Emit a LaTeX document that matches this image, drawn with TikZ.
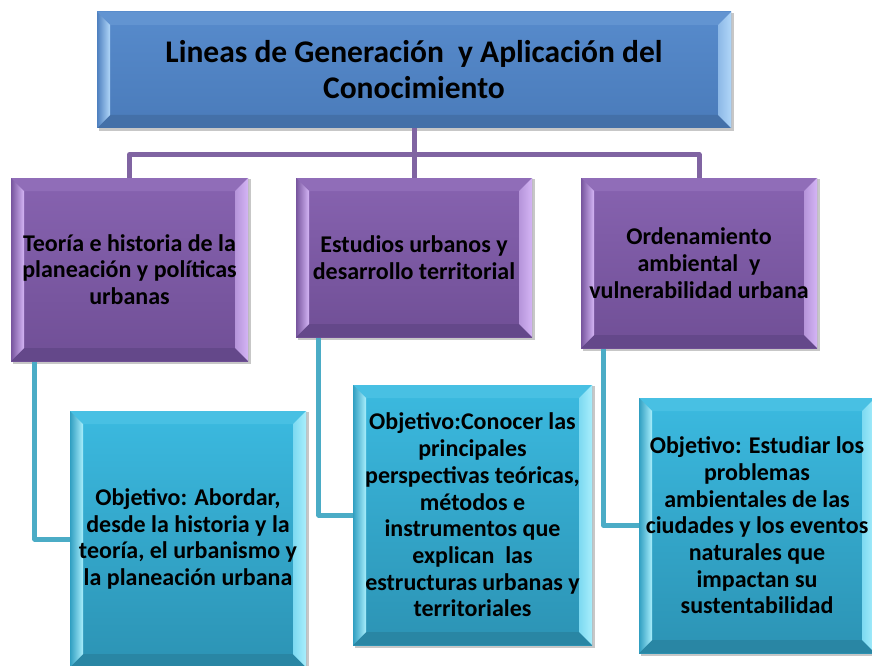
\documentclass[tikz,border=0pt]{standalone}
\usepackage{fontspec}
\setmainfont{Carlito}
\usetikzlibrary{calc}
\pgfdeclarelayer{background}
\pgfsetlayers{background,main}
\definecolor{bluetop}{HTML}{578BCC}
\definecolor{bluebot}{HTML}{4A7BBA}
\definecolor{bluelight}{HTML}{B0D6F8}
\definecolor{bluedark}{HTML}{4470A8}
\definecolor{purtop}{HTML}{8763B0}
\definecolor{purbot}{HTML}{704F96}
\definecolor{purlight}{HTML}{D4B5F5}
\definecolor{purdark}{HTML}{64488A}
\definecolor{tealtop}{HTML}{3BBAE0}
\definecolor{tealbot}{HTML}{2C93B4}
\definecolor{teallight}{HTML}{A8EEFC}
\definecolor{tealdark}{HTML}{2986A4}
\definecolor{purline}{HTML}{8064A2}
\definecolor{tealline}{HTML}{4BACC6}
\tikzset{
  bevelbox/.style n args={4}{rectangle, inner sep=0pt, align=center, text=black,
    font=\bfseries\fontsize{24}{26.7}\selectfont,
    top color=#1, bottom color=#2,
    path picture={
      \coordinate (bvnw) at (path picture bounding box.north west);
      \coordinate (bvne) at (path picture bounding box.north east);
      \coordinate (bvsw) at (path picture bounding box.south west);
      \coordinate (bvse) at (path picture bounding box.south east);
      \coordinate (bvinw) at ([shift={(13pt,-13pt)}]bvnw);
      \coordinate (bvine) at ([shift={(-13pt,-13pt)}]bvne);
      \coordinate (bvisw) at ([shift={(13pt,13pt)}]bvsw);
      \coordinate (bvise) at ([shift={(-13pt,13pt)}]bvse);
      \fill[#1!88!#3] (bvnw) -- (bvne) -- (bvine) -- (bvinw) -- cycle;
      \fill[#4] (bvsw) -- (bvse) -- (bvise) -- (bvisw) -- cycle;
      \shade[left color=#2!70!#1, right color=#3] (bvnw) -- (bvinw) -- (bvisw) -- (bvsw) -- cycle;
      \shade[left color=#3!60!#1, right color=#3] (bvne) -- (bvine) -- (bvise) -- (bvse) -- cycle;
    }},
  topbox/.style={bevelbox={bluetop}{bluebot}{bluelight}{bluedark},
    font=\bfseries\fontsize{31.5}{36}\selectfont},
  purbox/.style={bevelbox={purtop}{purbot}{purlight}{purdark}},
  tealbox/.style={bevelbox={tealtop}{tealbot}{teallight}{tealdark}},
  purconn/.style={draw=purline, line width=5pt, line join=round},
  tealconn/.style={draw=tealline, line width=5pt, line join=round},
  boxshadow/.style={fill=black, opacity=0.22}
}
\begin{document}
\begin{tikzpicture}[x=1pt,y=-1pt]
\clip (0,0) rectangle (872,666);
\useasboundingbox (0,0) rectangle (872,666);

\node[topbox, minimum width=634pt, minimum height=116pt] (top) at (414,70)
  {Lineas de Generación~ y Aplicación del\\Conocimiento};

\node[purbox, minimum width=237pt, minimum height=183pt] (p1) at (129.5,269.5)
  {Teoría e historia de la\\planeación y políticas\\urbanas};
\node[purbox, minimum width=236pt, minimum height=159pt] (p2) at (414,257.5)
  {Estudios urbanos y\\desarrollo territorial};
\node[purbox, minimum width=236pt, minimum height=170pt] (p3) at (699,263)
  {Ordenamiento\\ambiental~ y\\vulnerabilidad urbana};

\node[tealbox, minimum width=236pt, minimum height=256pt] (b1) at (188,539)
  {Objetivo: Abordar,\\desde la historia y la\\teoría, el urbanismo y\\la planeación urbana};
\node[tealbox, minimum width=239pt, minimum height=260pt] (b2) at (472.5,515)
  {Objetivo:Conocer las\\principales\\perspectivas teóricas,\\métodos e\\instrumentos que\\explican~ las\\estructuras urbanas y\\territoriales};
\node[tealbox, minimum width=236pt, minimum height=255pt] (b3) at (757,525.5)
  {Objetivo: Estudiar los\\problemas\\ambientales de las\\ciudades y los eventos\\naturales que\\impactan su\\sustentabilidad};

\coordinate (bus) at (0,154.5);

\begin{pgfonlayer}{background}
  \foreach \n in {top,p1,p2,p3,b1,b2,b3}{
    \fill[boxshadow] ([shift={(2pt,-3pt)}]\n.south west) rectangle ([shift={(3pt,-1pt)}]\n.north east);
  }
  \draw[purconn] (top) -- (p2);
  \draw[purconn] (p1.north) -- (p1.north |- bus) -| (p3.north);
  \draw[tealconn] ([xshift=24pt]p1.south west) |- (b1);
  \draw[tealconn] ([xshift=23pt]p2.south west) |- (b2);
  \draw[tealconn] ([xshift=23pt]p3.south west) |- (b3);
\end{pgfonlayer}
\end{tikzpicture}
\end{document}
